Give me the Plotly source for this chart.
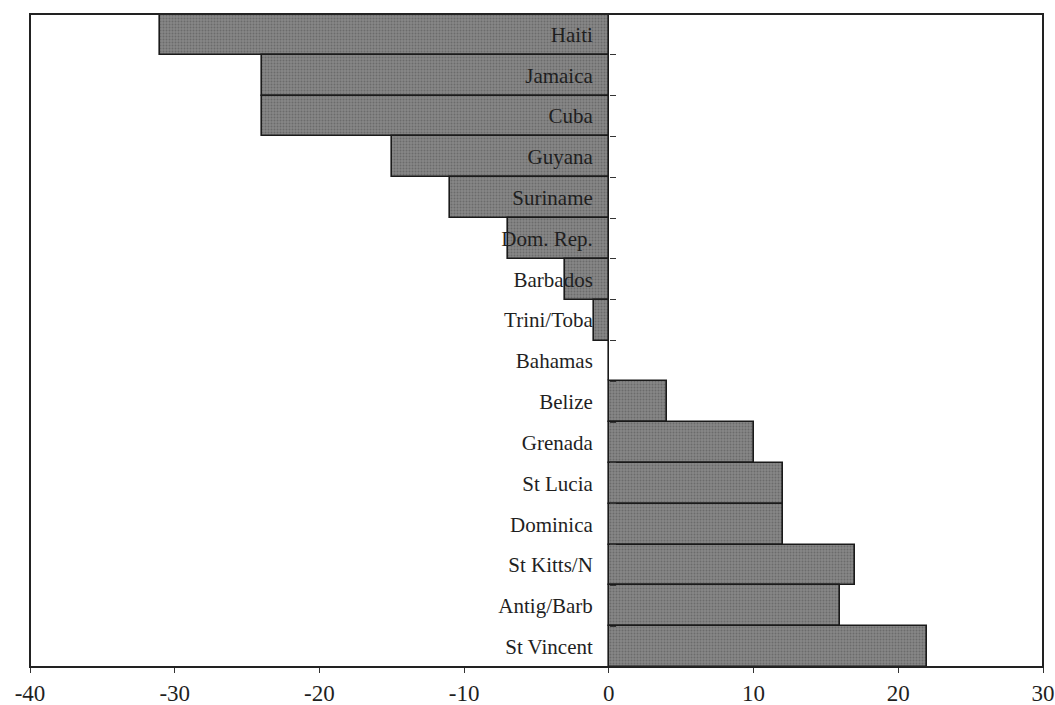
import plotly.graph_objects as go

countries = ["Haiti", "Jamaica", "Cuba", "Guyana", "Suriname", "Dom. Rep.", "Barbados",
             "Trini/Toba", "Bahamas", "Belize", "Grenada", "St Lucia", "Dominica",
             "St Kitts/N", "Antig/Barb", "St Vincent"]
values = [-31, -24, -24, -15, -11, -7, -3, -1, 0, 4, 10, 12, 12, 17, 16, 22]
x_ticks = [-40, -30, -20, -10, 0, 10, 20, 30]
x_tick_text = ["-40", "-30", "-20", "-10", "0", "10", "20", "30"]

FONT = "Liberation Serif"

fig = go.Figure(go.Bar(
    x=values, y=countries, orientation="h",
    marker=dict(color="#868686",
                pattern=dict(shape=".", size=3, solidity=0.35, fgcolor="#4f4f4f",
                             bgcolor="#868686", fillmode="overlay"),
                line=dict(color="#1a1a1a", width=1.6)),
    hoverinfo="x+y",
))

fig.update_layout(
    width=1055, height=705,
    margin=dict(l=30, r=12, t=14, b=38),
    paper_bgcolor="white", plot_bgcolor="white",
    bargap=0, showlegend=False,
    font=dict(family=FONT, size=22, color="#1f1f1f"),
    xaxis=dict(range=[-40, 30], tickvals=x_ticks, ticktext=x_tick_text,
               ticks="outside", ticklen=5, automargin=False,
               ticklabeloverflow="allow",
               tickcolor="#333", showgrid=False, zeroline=False, showline=False,
               tickfont=dict(family=FONT, size=23, color="#1f1f1f")),
    yaxis=dict(categoryorder="array", categoryarray=countries, autorange="reversed",
               anchor="free", position=40 / 70, side="left", automargin=False,
               ticks="inside", ticklen=6, tickcolor="#333", tickson="boundaries",
               showgrid=False, zeroline=False, showline=False,
               ticklabelstandoff=16,
               tickfont=dict(family=FONT, size=21, color="#1f1f1f")),
    shapes=[dict(type="rect", xref="paper", yref="paper", x0=0, x1=1, y0=0, y1=1,
                 line=dict(color="#222", width=2), layer="above")],
)

fig.write_html("out.html", config={"displayModeBar": False},
               post_script="document.body.style.margin='0';document.body.style.overflow='hidden';")
